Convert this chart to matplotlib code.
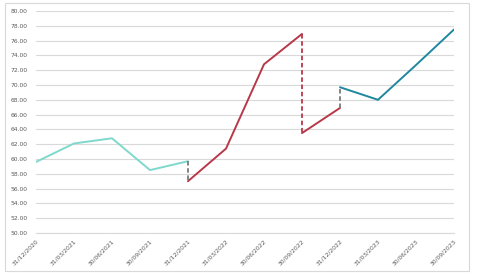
import matplotlib
matplotlib.use("Agg")
import matplotlib.pyplot as plt
from matplotlib.patches import Rectangle

categories = ["31/12/2020", "31/03/2021", "30/06/2021", "30/09/2021", "31/12/2021",
              "31/03/2022", "30/06/2022", "30/09/2022", "31/12/2022", "31/03/2023",
              "30/06/2023", "30/09/2023"]
# series 1 (light teal): 31/12/2020 .. 31/12/2021
s1_values = [59.6, 62.1, 62.8, 58.5, 59.7]
# series 2 (red): 31/12/2021 .. 30/09/2022, then restart 30/09/2022 .. 31/12/2022
s2a_values = [57.0, 61.4, 72.8, 76.9]
s2b_values = [63.5, 66.9]
# series 3 (teal): 31/12/2022 .. 30/09/2023
s3_values = [69.7, 68.0, 72.7, 77.5]
yticks = [50 + 2 * i for i in range(16)]

c1 = "#7fd8cc"
c2 = "#b8384a"
c3 = "#1f879e"
cg = "#7a7a7a"

fig = plt.figure(figsize=(5, 2.73), dpi=100)
fig.patch.set_facecolor("white")
fig.patches.append(Rectangle((5 / 500, 1 - 271 / 273), 463.5 / 500, 268 / 273,
                             transform=fig.transFigure, fill=False,
                             edgecolor="#d9d9d9", linewidth=0.8))

ax = fig.add_axes([36 / 500, 1 - 233 / 273, 418 / 500, 222 / 273])
ax.set_facecolor("white")

x1 = list(range(0, 5))
x2a = list(range(4, 8))
x2b = list(range(7, 9))
x3 = list(range(8, 12))

lw = 1.4
ax.plot(x1, s1_values, color=c1, lw=lw, solid_capstyle="round")
ax.plot(x2a, s2a_values, color=c2, lw=lw, solid_capstyle="round")
ax.plot(x2b, s2b_values, color=c2, lw=lw, solid_capstyle="round")
ax.plot(x3, s3_values, color=c3, lw=lw, solid_capstyle="round")

# connectors
ax.plot([4, 4], [s1_values[-1], s2a_values[0]], color=cg, lw=1.3, ls=(0, (2.5, 1.5)))
ax.plot([7, 7], [s2a_values[-1], s2b_values[0]], color=c2, lw=1.3, ls=(0, (2.5, 1.5)))
ax.plot([8, 8], [s2b_values[-1], s3_values[0]], color=cg, lw=1.3, ls=(0, (2.5, 1.5)))

ax.set_xlim(0, 11)
ax.set_ylim(50, 80)
ax.set_yticks(yticks)
ax.set_yticklabels([f"{v:.2f}" for v in yticks])
ax.set_xticks(range(len(categories)))
ax.set_xticklabels(categories, rotation=45, ha="right", rotation_mode="anchor")
ax.grid(axis="y", color="#d9d9d9", lw=0.8)
ax.set_axisbelow(True)
for s in ax.spines.values():
    s.set_visible(False)
ax.spines["bottom"].set_visible(True)
ax.spines["bottom"].set_color("#d9d9d9")
ax.spines["bottom"].set_linewidth(0.8)
ax.tick_params(axis="both", length=0, labelsize=4.3, colors="#595959")
ax.tick_params(axis="y", pad=6)
ax.tick_params(axis="x", pad=4)

fig.savefig("out.png", dpi=100, facecolor="white")
